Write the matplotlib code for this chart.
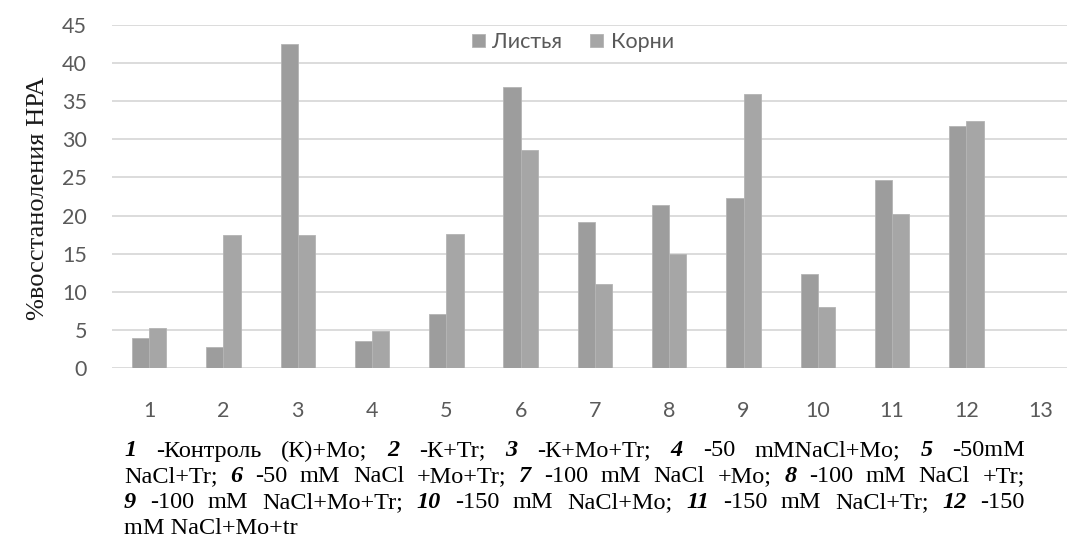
import matplotlib.pyplot as plt
import numpy as np

W, H = 1067, 551

groups = [str(i) for i in range(1, 14)]
leaves = [3.9, 2.8, 42.5, 3.6, 7.1, 36.9, 19.1, 21.35, 22.3, 12.3, 24.7, 31.7]
roots = [5.2, 17.5, 17.5, 4.9, 17.6, 28.6, 11.0, 14.9, 35.9, 8.0, 20.25, 32.45]
series_names = ['Листья', 'Корни']
ylabel = '%восстаноления НРА'

# caption lines: (word, bold-italic)
caption = [
    [('1', 1), ('-Контроль', 0), ('(К)+Mo;', 0), ('2', 1), ('-К+Tr;', 0), ('3', 1),
     ('-К+Mo+Tr;', 0), ('4', 1), ('-50', 0), ('mMNaCl+Mo;', 0), ('5', 1), ('-50mM', 0)],
    [('NaCl+Tr;', 0), ('6', 1), ('-50', 0), ('mM', 0), ('NaCl', 0), ('+Mo+Tr;', 0),
     ('7', 1), ('-100', 0), ('mM', 0), ('NaCl', 0), ('+Mo;', 0), ('8', 1), ('-100', 0),
     ('mM', 0), ('NaCl', 0), ('+Tr;', 0)],
    [('9', 1), ('-100', 0), ('mM', 0), ('NaCl+Mo+Tr;', 0), ('10', 1), ('-150', 0), ('mM', 0),
     ('NaCl+Mo;', 0), ('11', 1), ('-150', 0), ('mM', 0), ('NaCl+Tr;', 0), ('12', 1), ('-150', 0)],
    [('mM NaCl+Mo+tr', 0)],
]

serif = ['Liberation Serif', 'DejaVu Serif']
plt.rcParams['font.family'] = 'Lato'
fig = plt.figure(figsize=(W / 100, H / 100), dpi=100)

# plot area in pixels: left 112, right edge of image, y from 25 (45) to 368 (0)
left, right, top, bottom = 112, W, 25, 368
ax = fig.add_axes([left / W, 1 - bottom / H, (right - left) / W, (bottom - top) / H])

x = np.arange(1, len(leaves) + 1)
bw = 0.232
ax.bar(x - bw / 2, leaves, bw, color='#9d9d9d', edgecolor='#b4b4b4', linewidth=0.6,
       label=series_names[0], zorder=3)
ax.bar(x + bw / 2, roots, bw, color='#a6a6a6', edgecolor='#b4b4b4', linewidth=0.6,
       label=series_names[1], zorder=3)

step = 74.3
ax.set_xlim(0.5, 0.5 + (right - left) / step)
ax.set_ylim(0, 45)
ax.set_yticks(np.arange(0, 46, 5))
ax.set_xticks(np.arange(1, 14))
ax.set_xticklabels(groups)
ax.grid(axis='y', color='#d9d9d9', linewidth=1.3, zorder=0)
for s in ax.spines.values():
    s.set_visible(False)
ax.tick_params(length=0, labelsize=15.5, colors='#5a5a5a')
ax.tick_params(axis='x', pad=24)
ax.tick_params(axis='y', pad=18)

fig.text(38 / W, 1 - 198 / H, ylabel, rotation=90, ha='center', va='center',
         family=serif, fontsize=19, color='#1a1a1a')

leg = fig.legend(loc='center', bbox_to_anchor=(573 / W, 1 - 42 / H), ncol=2, frameon=False,
                 fontsize=15.5, handlelength=0.6, handleheight=0.6, handletextpad=0.35,
                 columnspacing=1.3, labelcolor='#595959')

# justified caption
renderer = fig.canvas.get_renderer()
x0, x1 = 124, 1025
ys = [451, 477, 503, 529]
fs = 17.5

for li, (line, yc) in enumerate(zip(caption, ys)):
    texts = []
    for word, bi in line:
        t = fig.text(0, 1 - yc / H, word, family=serif, fontsize=fs,
                     weight='bold' if bi else 'normal', style='italic' if bi else 'normal',
                     va='center', ha='left', color='black')
        texts.append(t)
    widths = [t.get_window_extent(renderer).width for t in texts]
    if li < len(caption) - 1 and len(texts) > 1:
        gap = (x1 - x0 - sum(widths)) / (len(texts) - 1)
    else:
        gap = 5
    xp = x0
    for t, w in zip(texts, widths):
        t.set_x(xp / W)
        xp += w + gap

fig.savefig('out.png', dpi=100)
